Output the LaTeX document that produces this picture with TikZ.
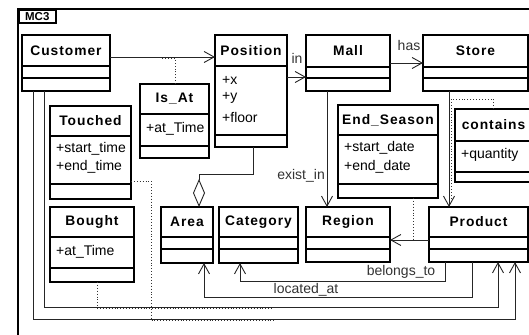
\documentclass[tikz,border=0pt]{standalone}
\usepackage{fontspec}
\setmainfont{Liberation Sans}
\newfontfamily\ttlfont[LetterSpace=7]{Liberation Sans}
\usetikzlibrary{arrows.meta}
\newcommand\umlclass[8]{%
  \node[cls, minimum width={(#4-#2)*1pt}, minimum height={(#5-#3)*1pt}] (#1) at (#2,#3) {};
  \draw[sep] (#2,#6) -- (#4,#6);
  \draw[sep] (#2,#7) -- (#4,#7);
  \node[ttl] (#1-t) at ({(#2+#4)/2},{(#3+#6)/2}) {#8};
}
\begin{document}
\begin{tikzpicture}[x=1pt,y=-1pt,
  cls/.style={draw, line width=1.4pt, anchor=north west, inner sep=0pt, outer sep=0pt},
  sep/.style={line width=1.4pt},
  ttl/.style={font=\ttlfont\bfseries\fontsize{13.8}{14}\selectfont, inner sep=0pt},
  att/.style={font=\fontsize{14}{15}\selectfont, anchor=west, inner sep=0pt},
  lbl/.style={font=\fontsize{14}{15}\selectfont, inner sep=0pt, text=black!80},
  conn/.style={line width=0.9pt, draw=black!85},
  nav/.style={conn, -{Straight Barb[length=10pt,width=11pt,line width=0.9pt]}},
  adot/.style={line width=0.9pt, dotted, draw=black!80}
]
\useasboundingbox (0,0) rectangle (529,334);
\clip (0,0) rectangle (529,334);
\fill[white] (0,0) rectangle (529,334);
% frame
\draw[line width=2.5pt] (18,9) rectangle (545,350);
\node[draw, line width=1.6pt, anchor=north west, minimum width=37pt, minimum height=13pt, inner sep=0pt, font=\bfseries\fontsize{11.5}{12}\selectfont] (mc3) at (18,9) {MC3};

% classes
\umlclass{Customer}{22}{35}{110}{91}{66}{78}{Customer}
\umlclass{Position}{215}{35}{287}{147}{66}{135}{Position}
\node[att] (px) at (222,80) {+x};
\node[att] (py) at (222,98) {+y};
\node[att] (pf) at (222,117) {+floor};
\umlclass{Mall}{306}{35}{390}{91}{67}{78}{Mall}
\umlclass{Store}{423}{35}{528}{91}{67}{78}{Store}
\umlclass{IsAt}{140}{84}{209}{158}{114}{146}{Is\_At}
\node[att] (ia) at (146,129) {+at\_Time};
\umlclass{Touched}{50}{106}{131}{199}{136}{184}{Touched}
\node[att] (t1) at (56,149) {+start\_time};
\node[att] (t2) at (56,167) {+end\_time};
\umlclass{EndSeason}{338}{105}{438}{198}{135}{184}{End\_Season}
\node[att] (e1) at (344,148) {+start\_date};
\node[att] (e2) at (344,167) {+end\_date};
\umlclass{contains}{455}{109}{532}{182}{141}{172}{contains}
\node[att] (c1) at (461,155) {+quantity};
\umlclass{Bought}{50}{207}{134}{282}{237}{268}{Bought}
\node[att] (b1) at (56,252) {+at\_Time};
\umlclass{Area}{161}{207}{213}{263}{237}{249}{Area}
\umlclass{Category}{219}{207}{298}{263}{237}{249}{Category}
\umlclass{Region}{306}{207}{390}{262}{237}{249}{Region}
\umlclass{Product}{429}{207}{528}{262}{237}{249}{Product}

% association-class dotted links
\draw[adot] (IsAt.north -| 175,0) -- (175,58) -- (162,58);
\draw[adot] (contains.north -| 493,0) -- (493,99) -- (451,99) -- (451,200);
\draw[adot] (EndSeason.south -| 413,0) -- (413,240);
\draw[adot] (Touched.east |- 0,181) -- (151,181) -- (151,320) -- (275,320);
\draw[adot] (Bought.south -| 97,0) -- (97,308) -- (272,308);

% connectors
\draw[nav] (Customer.east |- 0,57) -- (Position.west |- 0,57);
\draw[nav] (Position.east |- 0,77) -- (Mall.west |- 0,77);
\node[lbl] (lin) at (297,58) {in};
\draw[nav] (Mall.east) -- (Store.west);
\node[lbl] (lhas) at (409,45) {has};
\draw[nav] (Mall.south -| 327,0) -- (Region.north -| 327,0);
\node[lbl, anchor=east] (lex) at (325,176) {exist\_in};
\draw[nav] (Store.south -| 449,0) -- (Product.north -| 449,0);
\draw[nav] (Product.west |- 0,240) -- (Region.east |- 0,240);
\draw[conn, -{Diamond[open,length=28pt,width=12pt,line width=0.9pt]}] (Position.south -| 253,0) -- (253,174) -- (199,174) -- (Area.north -| 199,0);
\draw[nav] (Product.south -| 445,0) -- (445,281) -- (240,281) -- (Category.south -| 240,0);
\node[lbl] (lbel) at (401,272) {belongs\_to};
\draw[nav] (Product.south -| 472,0) -- (472,297) -- (204,297) -- (Area.south -| 204,0);
\node[lbl] (lloc) at (306,290) {located\_at};
\draw[nav] (Customer.south -| 44,0) -- (44,307) -- (498,307) -- (Product.south -| 498,0);
\draw[nav] (Customer.south -| 33,0) -- (33,319) -- (515,319) -- (Product.south -| 515,0);
\end{tikzpicture}
\end{document}
